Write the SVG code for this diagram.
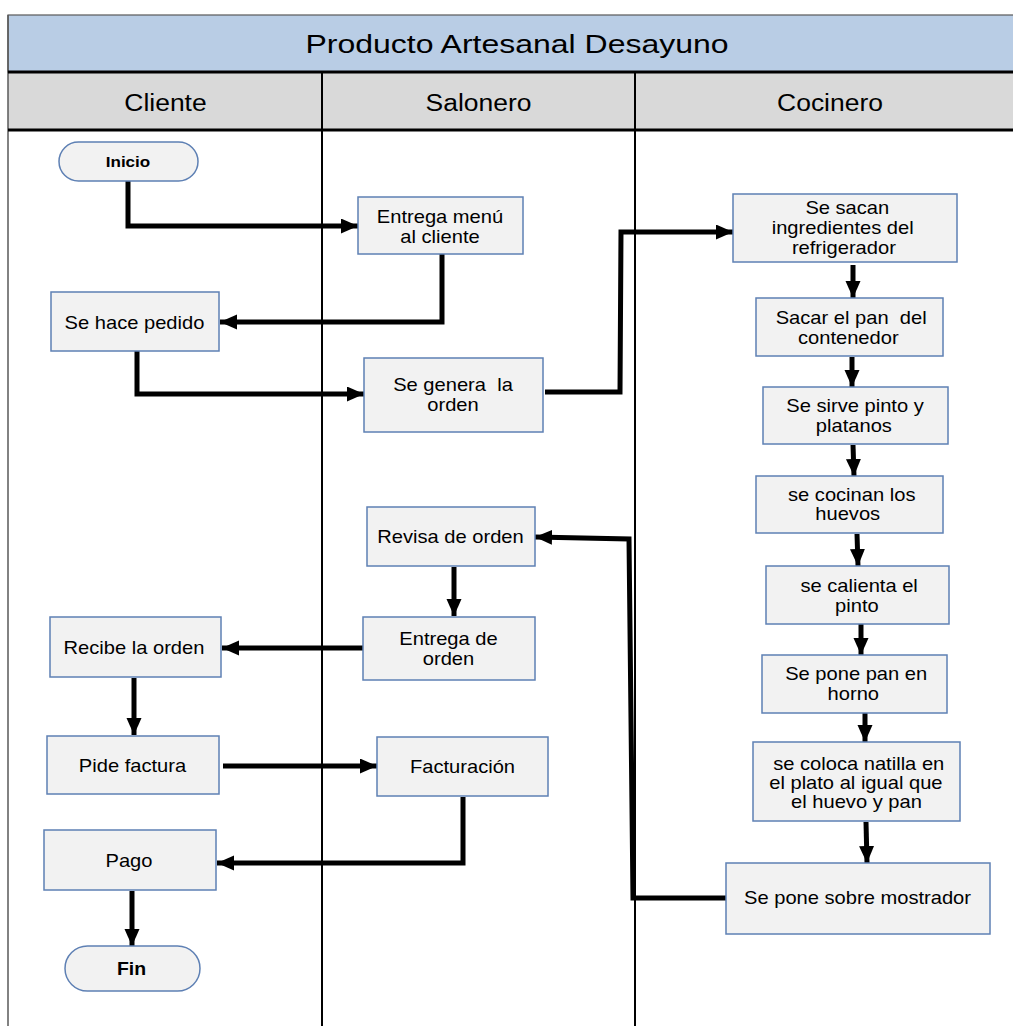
<svg xmlns="http://www.w3.org/2000/svg" width="1013" height="1026" viewBox="0 0 1013 1026">
  <style>
    .box { fill: #F2F2F2; stroke: #5E80B4; stroke-width: 1.5; }
    .t { font-family: "Liberation Sans", Arial, sans-serif; font-size: 17.5px; fill: #000; text-anchor: middle; }
    .tb { font-family: "Liberation Sans", Arial, sans-serif; font-weight: bold; fill: #000; text-anchor: middle; }
    .hdr { font-family: "Liberation Sans", Arial, sans-serif; font-size: 24.5px; fill: #000; text-anchor: middle; }
    .ttl { font-family: "Liberation Sans", Arial, sans-serif; font-size: 25px; fill: #000; text-anchor: middle; }
    .flow { fill: none; stroke: #000; stroke-width: 5; stroke-linejoin: miter; marker-end: url(#arrow); }
    .lane { stroke: #000; stroke-width: 2; }
    .band { stroke: #000; stroke-width: 3; }
  </style>
  <defs>
    <marker id="arrow" markerUnits="userSpaceOnUse" markerWidth="18" markerHeight="16" refX="17" refY="7.5" orient="auto">
      <path d="M0,0 L17,7.5 L0,15 Z" fill="#000"/>
    </marker>
  </defs>

  <rect width="1013" height="1026" fill="#FFFFFF"/>

  <!-- swimlane frame -->
  <g id="pool">
    <rect x="8" y="15" width="1015" height="57" fill="#B9CDE5" stroke="#595959" stroke-width="1.2"/>
    <rect x="8" y="72" width="1015" height="58" fill="#D9D9D9"/>
    <line x1="8" y1="15" x2="8" y2="1026" stroke="#595959" stroke-width="1.5"/>
    <line class="band" x1="8" y1="72" x2="1013" y2="72"/>
    <line class="band" x1="8" y1="130" x2="1013" y2="130"/>
    <line class="lane" x1="322" y1="72" x2="322" y2="1026"/>
    <line class="lane" x1="635" y1="72" x2="635" y2="1026"/>
    <text class="ttl" transform="translate(517,0) scale(1.28,1)"><tspan x="0" y="53">Producto Artesanal Desayuno</tspan></text>
    <text class="hdr" transform="translate(165.5,0) scale(1.08,1)"><tspan x="0" y="111">Cliente</tspan></text>
    <text class="hdr" transform="translate(478.5,0) scale(1.08,1)"><tspan x="0" y="111.5">Salonero</tspan></text>
    <text class="hdr" transform="translate(830,0) scale(1.08,1)"><tspan x="0" y="111.5">Cocinero</tspan></text>
  </g>

  <!-- connectors -->
  <g id="connectors">
    <polyline class="flow" points="128,181 128,226 358,226"/>
    <polyline class="flow" points="442,254 442,322 220,322"/>
    <polyline class="flow" points="137,351 137,394 364,394"/>
    <polyline class="flow" points="545,392 620,392 621,232 733,232"/>
    <polyline class="flow" points="853,265 853,298"/>
    <polyline class="flow" points="852,357 852,387"/>
    <polyline class="flow" points="853,445 854,476"/>
    <polyline class="flow" points="857,534 858,566"/>
    <polyline class="flow" points="861,624 861,655"/>
    <polyline class="flow" points="865,713 865,742"/>
    <polyline class="flow" points="866,822 867,863"/>
    <polyline class="flow" points="726,898 633,898 629,539 535,537"/>
    <polyline class="flow" points="454,567 454,616"/>
    <polyline class="flow" points="363,648 222,648"/>
    <polyline class="flow" points="134,678 134,735"/>
    <polyline class="flow" points="223,766 377,766"/>
    <polyline class="flow" points="463,797 463,863 217,863"/>
    <polyline class="flow" points="132,891 132,946"/>
  </g>

  <!-- Cliente lane -->
  <g id="inicio">
    <rect class="box" x="59" y="142" width="139" height="39" rx="19.5"/>
    <text class="tb" font-size="15.5" transform="translate(128,0) scale(1.1,1)"><tspan x="0" y="167">Inicio</tspan></text>
  </g>
  <g id="se-hace-pedido">
    <rect class="box" x="51" y="292" width="168" height="59"/>
    <text class="t" transform="translate(134.5,0) scale(1.15,1)"><tspan x="0" y="329">Se hace pedido</tspan></text>
  </g>
  <g id="recibe-orden">
    <rect class="box" x="50" y="617" width="171" height="60"/>
    <text class="t" transform="translate(134,0) scale(1.15,1)"><tspan x="0" y="654">Recibe la orden</tspan></text>
  </g>
  <g id="pide-factura">
    <rect class="box" x="47" y="736" width="172" height="58"/>
    <text class="t" transform="translate(132.5,0) scale(1.15,1)"><tspan x="0" y="772">Pide factura</tspan></text>
  </g>
  <g id="pago">
    <rect class="box" x="44" y="830" width="172" height="60"/>
    <text class="t" transform="translate(129,0) scale(1.15,1)"><tspan x="0" y="867">Pago</tspan></text>
  </g>
  <g id="fin">
    <rect class="box" x="65" y="946" width="135" height="45" rx="22.5"/>
    <text class="tb" font-size="18" transform="translate(131.5,0) scale(1.08,1)"><tspan x="0" y="975">Fin</tspan></text>
  </g>

  <!-- Salonero lane -->
  <g id="entrega-menu">
    <rect class="box" x="358" y="197" width="165" height="57"/>
    <text class="t" transform="translate(440,0) scale(1.15,1)"><tspan x="0" y="223">Entrega menú</tspan><tspan x="0" y="243">al cliente</tspan></text>
  </g>
  <g id="genera-orden">
    <rect class="box" x="364" y="358" width="179" height="74"/>
    <text class="t" xml:space="preserve" transform="translate(453,0) scale(1.15,1)"><tspan x="0" y="391">Se genera  la</tspan><tspan x="0" y="411">orden</tspan></text>
  </g>
  <g id="revisa-orden">
    <rect class="box" x="367" y="507" width="168" height="59"/>
    <text class="t" transform="translate(450.5,0) scale(1.15,1)"><tspan x="0" y="543">Revisa de orden</tspan></text>
  </g>
  <g id="entrega-orden">
    <rect class="box" x="363" y="617" width="172" height="63"/>
    <text class="t" transform="translate(448.5,0) scale(1.15,1)"><tspan x="0" y="645">Entrega de</tspan><tspan x="0" y="665">orden</tspan></text>
  </g>
  <g id="facturacion">
    <rect class="box" x="377" y="737" width="171" height="59"/>
    <text class="t" transform="translate(462.5,0) scale(1.15,1)"><tspan x="0" y="773">Facturación</tspan></text>
  </g>

  <!-- Cocinero lane -->
  <g id="sacan-ingredientes">
    <rect class="box" x="733" y="194" width="224" height="68"/>
    <text class="t" transform="translate(845,0) scale(1.15,1)"><tspan x="2" y="214">Se sacan</tspan><tspan x="-2" y="234">ingredientes del</tspan><tspan x="-1" y="254">refrigerador</tspan></text>
  </g>
  <g id="sacar-pan">
    <rect class="box" x="756" y="298" width="187" height="58"/>
    <text class="t" xml:space="preserve" transform="translate(850,0) scale(1.15,1)"><tspan x="1" y="324">Sacar el pan  del</tspan><tspan x="-1.5" y="344">contenedor</tspan></text>
  </g>
  <g id="sirve-pinto">
    <rect class="box" x="763" y="387" width="185" height="57"/>
    <text class="t" transform="translate(855,0) scale(1.15,1)"><tspan x="0" y="412">Se sirve pinto y</tspan><tspan x="-1" y="432">platanos</tspan></text>
  </g>
  <g id="cocinan-huevos">
    <rect class="box" x="756" y="476" width="187" height="57"/>
    <text class="t" transform="translate(850,0) scale(1.15,1)"><tspan x="1.5" y="501">se cocinan los</tspan><tspan x="-2" y="520">huevos</tspan></text>
  </g>
  <g id="calienta-pinto">
    <rect class="box" x="766" y="566" width="183" height="58"/>
    <text class="t" transform="translate(858,0) scale(1.15,1)"><tspan x="1" y="592">se calienta el</tspan><tspan x="-1" y="612">pinto</tspan></text>
  </g>
  <g id="pan-horno">
    <rect class="box" x="762" y="655" width="185" height="58"/>
    <text class="t" transform="translate(855,0) scale(1.15,1)"><tspan x="1" y="680">Se pone pan en</tspan><tspan x="-1.5" y="700">horno</tspan></text>
  </g>
  <g id="natilla">
    <rect class="box" x="753" y="742" width="207" height="79"/>
    <text class="t" transform="translate(857,0) scale(1.15,1)"><tspan x="1.5" y="770">se coloca natilla en</tspan><tspan x="-1" y="789">el plato al igual que</tspan><tspan x="-0.5" y="808">el huevo y pan</tspan></text>
  </g>
  <g id="mostrador">
    <rect class="box" x="726" y="863" width="264" height="71"/>
    <text class="t" transform="translate(857.5,0) scale(1.15,1)"><tspan x="0" y="904">Se pone sobre mostrador</tspan></text>
  </g>
</svg>
